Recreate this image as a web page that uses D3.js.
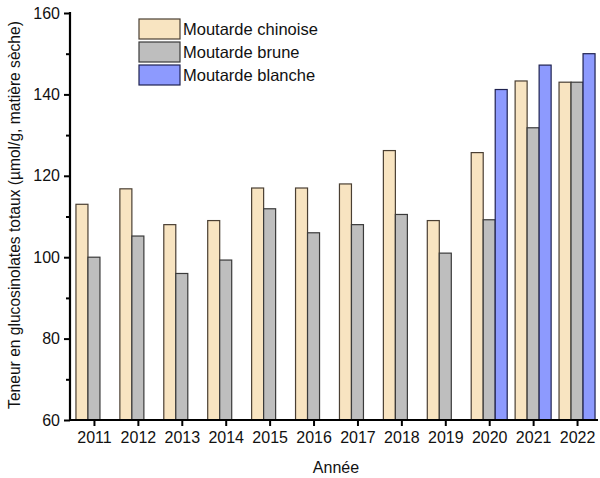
<!DOCTYPE html>
<html>
<head>
<meta charset="utf-8">
<script src="https://cdn.jsdelivr.net/npm/d3@7"></script>
<style>
  html, body { margin: 0; padding: 0; background: #fff; }
  svg { display: block; font-family: "Liberation Sans", Arial, Helvetica, sans-serif; }
</style>
</head>
<body>
<svg id="chart" width="600" height="478"></svg>
<script>
// Total glucosinolate content by year and mustard type
const years = ["2011","2012","2013","2014","2015","2016","2017","2018","2019","2020","2021","2022"];
const chinoise = [113, 116.8, 108, 109, 117, 117, 118, 126.2, 109, 125.7, 143.3, 143];
const brune    = [100, 105.2, 96, 99.3, 111.9, 106, 108, 110.5, 101, 109.2, 131.8, 143];
const blanche  = [null, null, null, null, null, null, null, null, null, 141.2, 147.2, 150];
const seriesNames = ["Moutarde chinoise", "Moutarde brune", "Moutarde blanche"];
const yTicks = [60, 80, 100, 120, 140, 160];
const yMinorTicks = [70, 90, 110, 130, 150];

const fills = ["#F8E4C1", "#BEBEBE", "#8D9AFE"];
const strokes = ["#4a3f33", "#3a3a3a", "#1f2250"];

const svg = d3.select("#chart");
const axisLeftX = 70, axisBottomY = 420;

const x = d3.scalePoint().domain(years).range([72, 599]).padding(0.5);
const y = d3.scaleLinear().domain([60, 160]).range([axisBottomY, 13]);
const barW = 12;

const series = [chinoise, brune, blanche];
const offsets = [-1.5, -0.5, 0.5];

series.forEach((vals, si) => {
  svg.append("g")
    .selectAll("rect")
    .data(years.map((yr, i) => ({ yr, v: vals[i] })).filter(d => d.v != null))
    .join("rect")
    .attr("x", d => x(d.yr) + offsets[si] * barW)
    .attr("y", d => y(d.v))
    .attr("width", barW)
    .attr("height", d => y(60) - y(d.v))
    .attr("fill", fills[si])
    .attr("stroke", strokes[si])
    .attr("stroke-width", 1.2);
});

// Y axis
const yAxis = svg.append("g")
  .attr("transform", `translate(${axisLeftX},0)`)
  .call(d3.axisLeft(y).tickValues(yTicks).tickSize(6).tickPadding(4).tickFormat(d3.format("d")));
yAxis.select(".domain").remove();
yAxis.selectAll(".tick line").attr("stroke", "#000").attr("stroke-width", 2);
yAxis.selectAll(".tick text").attr("font-size", 16).attr("fill", "#111")
  .attr("font-family", "'Liberation Sans', Arial, sans-serif");

const yMinor = svg.append("g")
  .attr("transform", `translate(${axisLeftX},0)`)
  .call(d3.axisLeft(y).tickValues(yMinorTicks).tickSize(4).tickFormat(""));
yMinor.select(".domain").remove();
yMinor.selectAll(".tick line").attr("stroke", "#000").attr("stroke-width", 2);

// X axis
const xAxis = svg.append("g")
  .attr("transform", `translate(0,${axisBottomY})`)
  .call(d3.axisBottom(x).tickSize(6).tickPadding(6));
xAxis.select(".domain").remove();
xAxis.selectAll(".tick line").attr("stroke", "#000").attr("stroke-width", 2);
xAxis.selectAll(".tick text").attr("font-size", 16).attr("fill", "#111")
  .attr("font-family", "'Liberation Sans', Arial, sans-serif");

// Axis lines
svg.append("line").attr("x1", axisLeftX).attr("x2", axisLeftX)
  .attr("y1", y(160) - 1).attr("y2", axisBottomY + 1)
  .attr("stroke", "#000").attr("stroke-width", 2.2);
svg.append("line").attr("x1", axisLeftX - 1).attr("x2", 598)
  .attr("y1", axisBottomY).attr("y2", axisBottomY)
  .attr("stroke", "#000").attr("stroke-width", 2.2);

// Axis titles
svg.append("text")
  .attr("transform", `translate(20,${215}) rotate(-90)`)
  .attr("text-anchor", "middle")
  .attr("font-size", 15.6).attr("fill", "#111")
  .text("Teneur en glucosinolates totaux (µmol/g, matière sèche)");
svg.append("text")
  .attr("x", 336).attr("y", 473)
  .attr("text-anchor", "middle")
  .attr("font-size", 16).attr("fill", "#111")
  .text("Année");

// Legend
const legend = svg.append("g").attr("transform", "translate(139,19)");
seriesNames.forEach((name, i) => {
  const g = legend.append("g").attr("transform", `translate(0,${i * 23})`);
  g.append("rect").attr("width", 41).attr("height", 20)
    .attr("fill", fills[i]).attr("stroke", strokes[i]).attr("stroke-width", 1.2);
  g.append("text").attr("x", 44).attr("y", 16)
    .attr("font-size", 16.5).attr("fill", "#111").text(name);
});
</script>
</body>
</html>
